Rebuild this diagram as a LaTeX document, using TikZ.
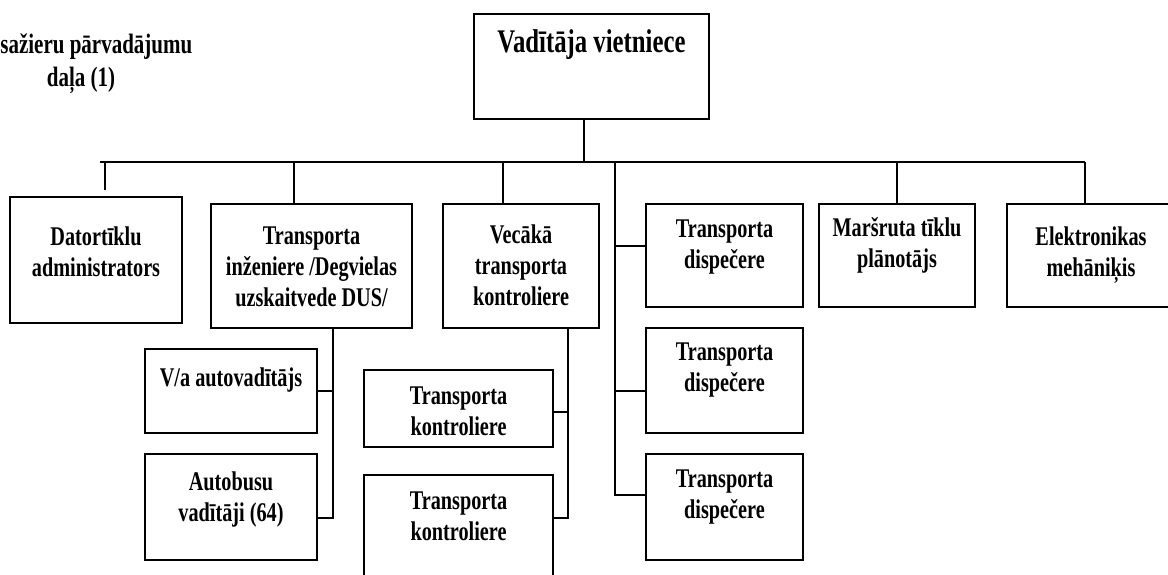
\documentclass[tikz,border=0pt]{standalone}
\usepackage{fontspec}
\setmainfont[FakeStretch=0.75]{Liberation Serif}
\usetikzlibrary{calc,positioning}
\tikzset{%
	box/.style 2 args = {draw, rectangle, line width=1pt, minimum width=#1*0.5pt, minimum height=#2*0.5pt, inner sep=0pt},
	txt/.style        = {align=center, inner sep=0pt, font=\fontsize{13.5}{15.5}\selectfont\bfseries},
	head/.style       = {inner sep=0pt, font=\fontsize{14}{16}\selectfont\bfseries},
	link/.style       = {line width=1pt},
}
\begin{document}
\begin{tikzpicture}[x=0.5pt,y=-0.5pt]
		\useasboundingbox (0,0) rectangle (1168,574);
		% heads
		\node[head, anchor=base west] (div1) at (0,53) {sažieru pārvadājumu};
		\node[head, anchor=base] (div2) at (81,86) {daļa (1)};
		\node[box={235}{105}] (vad) at (591.5,66.5) {};
		\node[txt, below=8pt of vad.north, font=\fontsize{16.5}{18}\selectfont\bfseries] (vadT) {Vadītāja vietniece};
		
		% first row
		\node[box={172}{126}] (dat) at (96,260) {};
		\node[txt, below=15pt of dat.north] (datT) {Datortīklu\\administrators};
		\node[box={201}{124}] (inz) at (311.5,266) {};
		\node[txt, below=11.5pt of inz.north] (inzT) {Transporta\\inženiere /Degvielas\\uzskaitvede DUS/};
		\node[box={156}{124}] (vec) at (521,266) {};
		\node[txt, below=10.5pt of vec.north] (vecT) {Vecākā\\transporta\\kontroliere};
		\node[box={157}{103}] (dis1) at (724.5,255.5) {};
		\node[txt, below=8pt of dis1.north] (dis1T) {Transporta\\dispečere};
		\node[box={156}{103}] (mar) at (897,255.5) {};
		\node[txt, below=7pt of mar.north] (marT) {Maršruta tīklu\\plānotājs};
		\node[box={168}{103}] (ele) at (1091,255.5) {};
		\node[txt, below=11.5pt of ele.north] (eleT) {Elektronikas\\mehāniķis};
		
		% lower boxes
		\node[box={172}{84}] (va) at (231,391) {};
		\node[txt, below=9.5pt of va.north] (vaT) {V/a autovadītājs};
		\node[box={172}{106}] (aut) at (231,507) {};
		\node[txt, below=9pt of aut.north] (autT) {Autobusu\\vadītāji (64)};
		\node[box={189}{77}] (kon1) at (458.5,408.5) {};
		\node[txt, below=8.5pt of kon1.north] (kon1T) {Transporta\\kontroliere};
		\node[box={189}{115}] (kon2) at (458.5,532.5) {};
		\node[txt, below=8.5pt of kon2.north] (kon2T) {Transporta\\kontroliere};
		\node[box={157}{105}] (dis2) at (724.5,380.5) {};
		\node[txt, below=7.5pt of dis2.north] (dis2T) {Transporta\\dispečere};
		\node[box={157}{106}] (dis3) at (724.5,507) {};
		\node[txt, below=8pt of dis3.north] (dis3T) {Transporta\\dispečere};
		
		% lines
		\coordinate (busL) at (100,162);
		\coordinate (busR) at (1085,162);
		\coordinate (dtop) at (615,162);
		\coordinate (itop) at ($(inz.south)+(21.5,0)$);
		\coordinate (ktop) at ($(vec.south)+(47,0)$);
		\draw[link] (busL) -- (busR);
		\draw[link] ($(vad.south)+(-8,0)$) -- +(0,43);
		\draw[link] ($(dat.north)+(9,-6)$) |- (busL);
		\draw[link] ($(inz.north)+(-17.5,0)$) |- (busL);
		\draw[link] ($(vec.north)+(-18,0)$) |- (busL);
		\draw[link] (mar.north) |- (busL);
		\draw[link] ($(ele.north)+(-6,0)$) |- (busR);
		\draw[link] (dtop) |- ($(dis1.west)+(0,-10)$);
		\draw[link] (dtop) |- ($(dis2.west)+(0,10)$);
		\draw[link] (dtop) |- ($(dis3.west)+(0,-12)$);
		\draw[link] (itop) |- (va.east);
		\draw[link] (itop) |- ($(aut.east)+(0,11)$);
		\draw[link] (ktop) |- ($(kon1.east)+(0,3.5)$);
		\draw[link] (ktop) |- ($(kon2.east)+(0,-14.5)$);
\end{tikzpicture}
\end{document}
